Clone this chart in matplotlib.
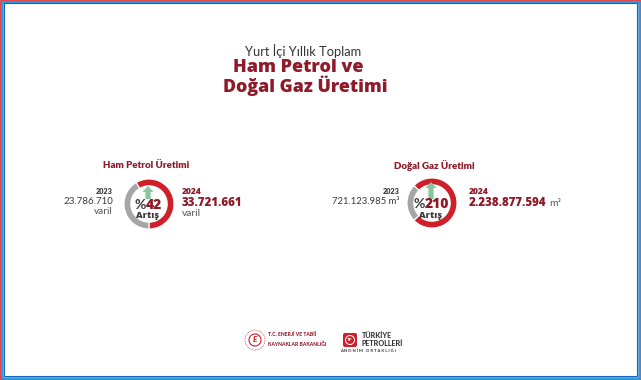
import matplotlib
matplotlib.use("Agg")
import matplotlib.pyplot as plt
from matplotlib.patches import Rectangle, Polygon, Circle, FancyBboxPatch

# ---- data ----
categories = ["Ham Petrol Üretimi", "Doğal Gaz Üretimi"]
years = ["2023", "2024"]
values_2023 = [23786710, 721123985]
values_2024 = [33721661, 2238877594]
labels_2023 = ["23.786.710", "721.123.985"]
labels_2024 = ["33.721.661", "2.238.877.594"]
units = ["varil", "m³"]
increase_labels = ["%42", "%210"]
title_lines = ["Yurt İçi Yıllık Toplam", "Ham Petrol ve", "Doğal Gaz Üretimi"]

W, H = 641, 380
RED = "#cf1f2b"
DRED = "#8e1a2a"
GRAY = "#a6a6a6"
TXT = "#3a3a3a"
GREEN = "#86c89b"
FONT = "Lato"
HEAVY = "Open Sans"

fig = plt.figure(figsize=(W / 100, H / 100), dpi=100)
ax = fig.add_axes([0, 0, 1, 1])
ax.set_xlim(0, W)
ax.set_ylim(0, H)
ax.axis("off")
renderer = fig.canvas.get_renderer()


def Y(y):
    return H - y


def twotone(x, y, left, right, size, c1, c2, fam1, w1, fam2, w2):
    """Draw left+right text centred at x."""
    t1 = ax.text(0, 0, left, fontsize=size, family=fam1, weight=w1)
    t2 = ax.text(0, 0, right, fontsize=size, family=fam2, weight=w2)
    w_1 = t1.get_window_extent(renderer).width
    w_2 = t2.get_window_extent(renderer).width
    t1.remove()
    t2.remove()
    split = x - (w_1 + w_2) / 2 + w_1
    ax.text(split, y, left, ha="right", va="baseline", fontsize=size, family=fam1,
            weight=w1, color=c1, zorder=5)
    ax.text(split, y, right, ha="left", va="baseline", fontsize=size, family=fam2,
            weight=w2, color=c2, zorder=5)


# border frame
ax.add_patch(Rectangle((0, 0), W, H, facecolor="white", edgecolor="none", zorder=0))
ax.add_patch(Rectangle((0.5, 0.5), W - 1, H - 1, fill=False, edgecolor="#d8262f", lw=1.2, zorder=10))
ax.add_patch(Rectangle((2, 2.5), W - 4, H - 4, fill=False, edgecolor="#2f9be0", lw=1.8, zorder=10))
ax.add_patch(Rectangle((3.6, 4.1), W - 7.2, H - 7.2, fill=False, edgecolor="#1763b4", lw=0.8, zorder=10))

# titles
ax.text(303, Y(51), title_lines[0], ha="center", va="center", fontsize=9.3,
        family=FONT, weight="normal", color="#333333")
ax.text(298, Y(67), title_lines[1], ha="center", va="center", fontsize=13.0,
        family=HEAVY, weight="extra bold", color=DRED)
ax.text(305, Y(86), title_lines[2], ha="center", va="center", fontsize=12.8,
        family=HEAVY, weight="extra bold", color=DRED)

centers = [(149, 204), (432, 203)]
title_pos = [(146, 166), (434, 166)]
start_angles = [121, 136]
left_x = [113, 400]
right_x = [182, 469]
radius = 25
ring = 6.8

for i in range(2):
    cx, cy = centers[i]
    v23, v24 = values_2023[i], values_2024[i]
    ax.pie([v24, v23], colors=[RED, GRAY], startangle=start_angles[i],
           counterclock=False, radius=radius, center=(cx, Y(cy)), frame=True,
           wedgeprops=dict(width=ring, edgecolor="white", linewidth=0.8))
    # section title
    tx, ty = title_pos[i]
    ax.text(tx, Y(ty), categories[i], ha="center", va="center", fontsize=7,
            family=FONT, weight="heavy", color=DRED)
    # arrow
    aw, hw = 2.6, 5.5
    top = 186 if i == 0 else 182
    ax.add_patch(Polygon([(cx - 1 - aw, Y(199)), (cx - 1 - aw, Y(top + 6)), (cx - 1 - hw, Y(top + 6)),
                          (cx - 1, Y(top)), (cx - 1 + hw, Y(top + 6)), (cx - 1 + aw, Y(top + 6)),
                          (cx - 1 + aw, Y(199))], closed=True, facecolor=GREEN,
                         edgecolor="none", zorder=3))
    # increase label
    pct = increase_labels[i]
    twotone(cx - 1, Y(cy + 5), pct[0], pct[1:], 10.0, TXT, DRED,
            FONT, "bold", HEAVY, "extra bold")
    ax.text(cx - 1, Y(cy + 14.5), "Artış", ha="center", va="baseline", fontsize=6.6,
            family=HEAVY, weight="extra bold", color=TXT, zorder=5)
    # 2023 labels
    lx = left_x[i]
    ax.text(lx, Y(192), years[0], ha="right", va="center", fontsize=5.2,
            family=FONT, weight="heavy", color=TXT)
    if i == 0:
        ax.text(lx, Y(202), labels_2023[i], ha="right", va="center", fontsize=7.0,
                family=FONT, weight="normal", color=TXT)
        ax.text(lx, Y(212), units[i], ha="right", va="center", fontsize=7.2,
                family=FONT, weight="normal", color="#555555")
    else:
        ax.text(lx, Y(202), labels_2023[i] + " " + units[i], ha="right", va="center",
                fontsize=6.8, family=FONT, weight="normal", color=TXT)
    # 2024 labels
    rx = right_x[i]
    ax.text(rx, Y(192), years[1], ha="left", va="center", fontsize=6.0,
            family=HEAVY, weight="extra bold", color=DRED)
    t = ax.text(rx, Y(203), labels_2024[i], ha="left", va="center", fontsize=8.3,
                family=HEAVY, weight="extra bold", color=DRED)
    if i == 0:
        ax.text(rx, Y(213), units[i], ha="left", va="center", fontsize=7.4,
                family=FONT, weight="normal", color="#555555")
    else:
        bb = t.get_window_extent(renderer)
        ax.text(bb.x1 + 3, Y(203), units[i], ha="left", va="center", fontsize=7.4,
                family=FONT, weight="normal", color="#555555")

ax.set_xlim(0, W)
ax.set_ylim(0, H)
ax.set_aspect("auto")

# logos (bottom)
ax.add_patch(Circle((255, Y(340)), 10, facecolor="white", edgecolor="#c44a52", lw=0.6, ls=(0, (1, 1))))
ax.add_patch(Circle((255, Y(340)), 6, facecolor="white", edgecolor=RED, lw=0.8))
ax.text(255, Y(340), "E", ha="center", va="center", fontsize=6, family=FONT,
        weight="black", color=RED, style="italic")
ax.text(268, Y(335), "T.C. ENERJİ VE TABİİ", ha="left", va="center", fontsize=3.6,
        family=FONT, weight="black", color=DRED)
ax.text(268, Y(344), "KAYNAKLAR BAKANLIĞI", ha="left", va="center", fontsize=3.6,
        family=FONT, weight="black", color=DRED)

ax.add_patch(FancyBboxPatch((343, Y(347)), 14, 14, boxstyle="round,pad=0,rounding_size=2",
                            facecolor=RED, edgecolor="none"))
ax.add_patch(Circle((350, Y(340)), 5, facecolor="white", edgecolor="none"))
ax.add_patch(Circle((350, Y(340)), 4, facecolor=RED, edgecolor="none"))
ax.text(350, Y(340), "TP", ha="center", va="center", fontsize=3.2, family=FONT,
        weight="black", color="white")
ax.text(362, Y(335), "TÜRKİYE", ha="left", va="center", fontsize=5.2,
        family=FONT, weight="black", color="#333333")
ax.text(362, Y(343), "PETROLLERİ", ha="left", va="center", fontsize=5.2,
        family=FONT, weight="black", color="#333333")
ax.text(368, Y(351), "A N O N İ M   O R T A K L I Ğ I", ha="center", va="center", fontsize=3.0,
        family=FONT, weight="bold", color="#333333")

fig.savefig("out.png", dpi=100, facecolor="white")
